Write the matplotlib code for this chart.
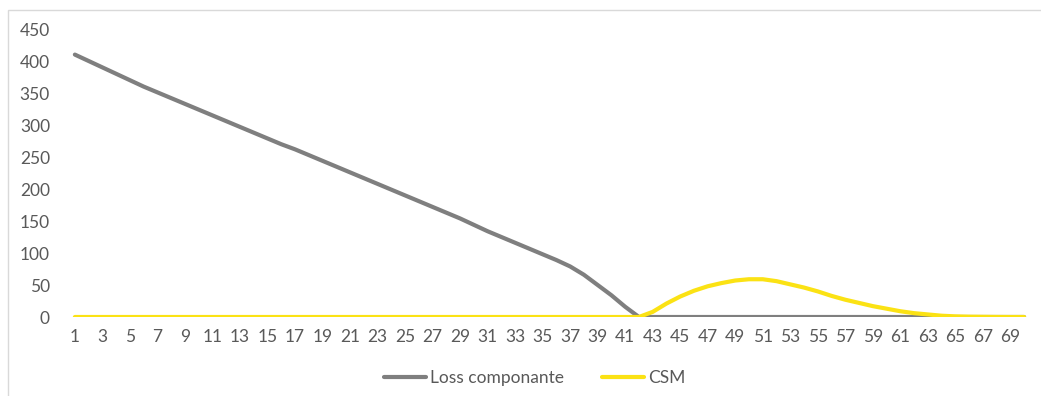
import matplotlib.pyplot as plt
from matplotlib.patches import Rectangle

periods = list(range(1, 71))

loss = [410, 400, 390, 380, 370, 360, 351, 342, 333, 324,
        315, 306, 297, 288, 279, 270, 262, 253, 244, 235,
        226, 217, 208, 199, 190, 181, 172, 163, 154, 144,
        134, 125, 116, 107, 98, 89, 79, 66, 50, 34,
        16, 0] + [0] * 28

csm = [0] * 42 + [8, 21, 32, 41, 48, 53, 57, 59, 59, 56,
                  51, 46, 40, 33, 27, 22, 17, 13, 9, 6,
                  4, 2, 1, 0.5, 0.3, 0.1, 0, 0]

tick_labels = [str(p) for p in periods[::2]]

plt.rcParams['font.family'] = ['Lato', 'DejaVu Sans']

fig = plt.figure(figsize=(10.41, 3.96), dpi=100)
# light frame around the chart area (only top and left edges are visible)
fig.patches.append(Rectangle((8 / 1041, -0.1), 1.2, 1.1 - 10 / 396, transform=fig.transFigure,
                             fill=False, edgecolor="#d9d9d9", linewidth=1.0))

ax = fig.add_axes([68 / 1041, 79 / 396, (1031 - 68) / 1041, (317 - 29) / 396])

ax.plot(periods, loss, color="#7f7f7f", linewidth=3.0, label="Loss componante",
        solid_capstyle="round", zorder=2)
ax.plot(periods, csm, color="#FBE214", linewidth=3.0, label="CSM",
        solid_capstyle="round", zorder=3)

ax.set_xlim(0.5, 70.5)
ax.set_ylim(0, 450)
ax.set_yticks(range(0, 451, 50))
ax.set_xticks(periods[::2])
ax.set_xticklabels(tick_labels)

for s in ax.spines.values():
    s.set_visible(False)
ax.tick_params(axis="both", length=0, labelsize=12.5, labelcolor="#595959")
ax.tick_params(axis="y", pad=13)
ax.tick_params(axis="x", pad=9)

ax.legend(loc="center", bbox_to_anchor=(535 / 1041, 18 / 396), bbox_transform=fig.transFigure,
          ncol=2, frameon=False, fontsize=12.5, labelcolor="#595959",
          handlelength=2.4, handletextpad=0.25, columnspacing=2.2)

plt.savefig("out.png", dpi=100)
